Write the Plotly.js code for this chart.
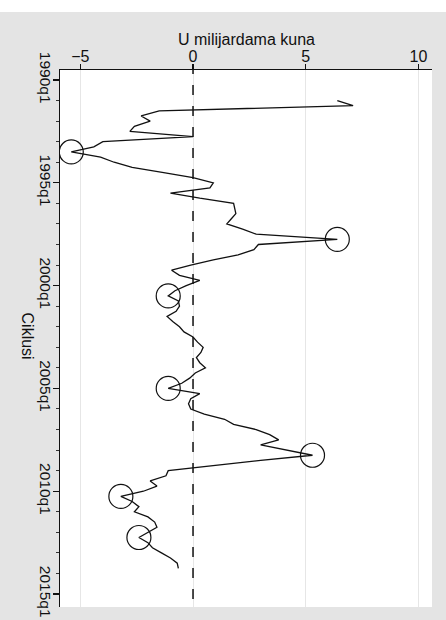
<!DOCTYPE html>
<html>
<head>
<meta charset="utf-8">
<script src="https://cdn.plot.ly/plotly-3.0.1.min.js"></script>
<style>
html,body{margin:0;padding:0;background:#fff;}
#chart{width:446px;height:620px;}
</style>
</head>
<body>
<div id="chart"></div>
<script>
// Quarterly cycle series, 1991q1 .. 2013q4 (U milijardama kuna)
var startLabel = "1991q1";
var cycleValues = [
  6.4, 7.1, -1.5, -2.3, -1.9, -2.6, -2.8, 0.0,
  -4.0, -4.4, -5.4, -4.1, -3.5, -2.7, -1.3, 0.0,
  0.9, 0.75, -1.0, 0.3, 1.8, 1.85, 1.9, 1.7,
  1.5, 2.2, 2.8, 6.4, 2.9, 2.7, 2.0, 0.9,
  -0.1, -0.95, -0.6, 0.3, -0.3, -0.8, -1.1, -0.65,
  -0.6, -0.75, -1.15, -0.9, -0.6, -0.4, 0.0, 0.2,
  0.45, 0.35, 0.15, 0.3, 0.55, 0.1, -0.15, -0.5,
  -1.1, 0.3, -0.1, -0.2, -0.1, 0.5, 1.4, 1.8,
  2.8, 3.4, 3.8, 3.0, 4.1, 5.3, 3.0, 0.8,
  -1.1, -1.2, -1.9, -1.6, -2.2, -3.2, -2.7, -2.4,
  -2.6, -2.0, -1.7, -1.6, -2.0, -2.4, -2.0, -1.8,
  -1.4, -1.0, -0.7, -0.65
];
// Turning points marked with circles
var turningPoints = ["1993q3", "1997q4", "2000q3", "2005q1", "2008q2", "2010q2", "2012q2"];
// Axis ticks
var xTickVals = [-5, 0, 5, 10];
var yTickLabels = ["1990q1", "1995q1", "2000q1", "2005q1", "2010q1", "2015q1"];
var xTitle = "U milijardama kuna";
var yTitle = "Ciklusi";

function labelToYear(lab) {
  var p = lab.split("q");
  return parseInt(p[0], 10) + (parseInt(p[1], 10) - 1) / 4;
}
function yearToLabel(t) {
  var y = Math.floor(t + 1e-9);
  var q = Math.round((t - y) * 4) + 1;
  return y + "q" + q;
}
var quarters = [];
var t0 = labelToYear(startLabel);
for (var i = 0; i < cycleValues.length; i++) quarters.push(yearToLabel(t0 + i / 4));
var quarterPos = quarters.map(labelToYear);

var tpX = [], tpY = [];
turningPoints.forEach(function (lab) {
  var idx = quarters.indexOf(lab);
  if (idx >= 0) { tpX.push(cycleValues[idx]); tpY.push(quarterPos[idx]); }
});

var font = "Liberation Sans, Arial, sans-serif";

var traces = [
  {
    type: "scatter", mode: "lines",
    x: cycleValues, y: quarterPos,
    line: {color: "#111", width: 1.3},
    hoverinfo: "skip", showlegend: false
  },
  {
    type: "scatter", mode: "markers",
    x: tpX, y: tpY,
    marker: {symbol: "circle-open", size: 24, color: "#111", line: {width: 1.2, color: "#111"}},
    hoverinfo: "skip", showlegend: false
  }
];

var layout = {
  width: 446, height: 620,
  margin: {l: 60, r: 14, t: 70, b: 13},
  paper_bgcolor: "#e4e4e4",
  plot_bgcolor: "#ffffff",
  font: {family: font, color: "#111", size: 16},
  showlegend: false,
  xaxis: {
    side: "top",
    range: [-5.9, 10.6],
    tickvals: xTickVals,
    ticks: "outside", ticklen: 5, tickwidth: 1.2, tickcolor: "#111",
    ticklabelstandoff: -5,
    showline: true, linecolor: "#111", linewidth: 1.3,
    showgrid: true, gridcolor: "#e6e6e6", gridwidth: 1,
    zeroline: false,
    tickfont: {size: 16, family: font, color: "#111"}
  },
  yaxis: {
    range: [2015.63, 1989.514],
    tickvals: yTickLabels.map(labelToYear),
    ticktext: yTickLabels,
    tickangle: 90,
    ticks: "outside", ticklen: 6, tickwidth: 1.2, tickcolor: "#111",
    ticklabelstandoff: -6,
    ticklabeloverflow: "allow",
    minor: {dtick: 1, ticks: "outside", ticklen: 3, tickwidth: 1, tickcolor: "#333", showgrid: false},
    showline: true, linecolor: "#111", linewidth: 1.5,
    showgrid: false, zeroline: false,
    tickfont: {size: 15.5, family: font, color: "#111"}
  },
  shapes: [
    {type: "rect", xref: "paper", yref: "paper", x0: -0.2, x1: 1.1, y0: 1.108, y1: 1.2,
     fillcolor: "#ffffff", line: {width: 0}, layer: "below"},
    {type: "line", xref: "x", yref: "paper", x0: 0, x1: 0, y0: 0.015, y1: 1,
     line: {color: "#111", width: 1.5, dash: "10px,11px"}}
  ],
  annotations: [
    {text: xTitle, xref: "paper", yref: "paper", x: 0.5, y: 1.056,
     xanchor: "center", yanchor: "middle", showarrow: false,
     font: {size: 16, family: font, color: "#111"}},
    {text: yTitle, xref: "paper", yref: "paper", x: -0.088, y: 0.505,
     xanchor: "center", yanchor: "middle", textangle: 90, showarrow: false,
     font: {size: 16, family: font, color: "#111"}}
  ]
};

Plotly.newPlot("chart", traces, layout, {staticPlot: true, displayModeBar: false});
</script>
</body>
</html>
